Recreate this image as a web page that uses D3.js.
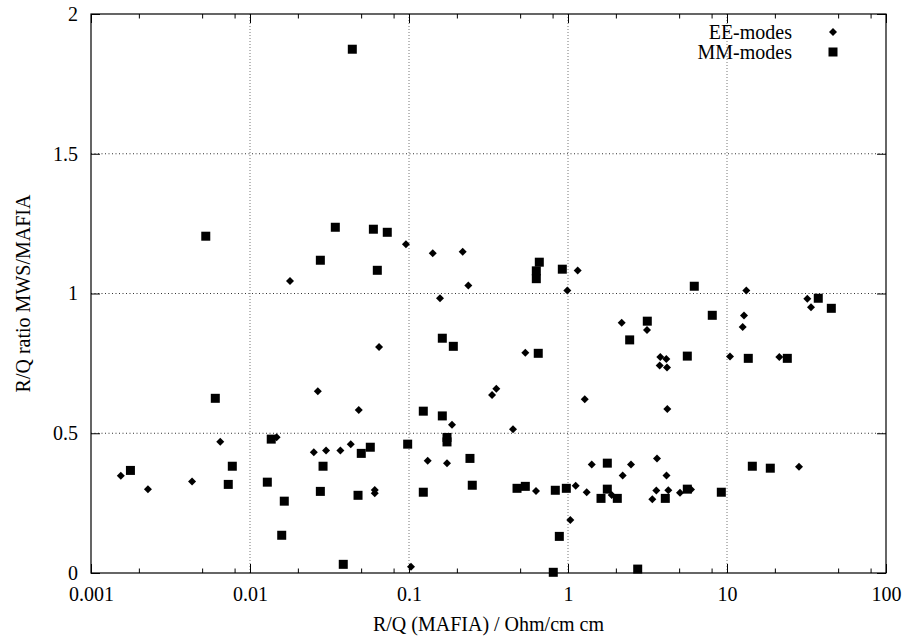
<!DOCTYPE html>
<html>
<head>
<meta charset="utf-8">
<script src="https://cdnjs.cloudflare.com/ajax/libs/d3/7.8.5/d3.min.js"></script>
<style>
  body { margin: 0; background: #fff; }
  text { font-family: "Liberation Serif", "Times New Roman", serif; }
</style>
</head>
<body>
<div id="chart"></div>
<script>
// Data
//-----------
var eeX = [0.00154, 0.00228, 0.00432, 0.0065, 0.0147, 0.01785, 0.0957, 0.141, 0.2176, 0.236,
  0.1567, 1.151, 0.99, 0.0648, 0.539, 0.0267, 0.354, 0.333, 1.274, 0.0483,
  0.1864, 0.451, 0.0252, 0.0301, 0.037, 0.043, 0.1311, 0.1734, 0.0609, 0.0609,
  0.629, 1.118, 1.311, 1.41, 1.034, 0.1029, 13.23, 32.0, 33.76, 12.79,
  12.55, 2.176, 3.14, 3.806, 4.152, 3.773, 4.194, 10.44, 21.33, 4.212,
  2.208, 2.49, 3.628, 4.164, 28.37, 1.883, 3.592, 3.391, 4.274, 5.063, 5.935];
var eeY = [0.348, 0.30, 0.327, 0.47, 0.486, 1.045, 1.176, 1.144, 1.149, 1.029,
  0.983, 1.082, 1.011, 0.809, 0.788, 0.65, 0.659, 0.637, 0.622, 0.583,
  0.53, 0.514, 0.432, 0.438, 0.438, 0.461, 0.402, 0.393, 0.297, 0.285,
  0.293, 0.312, 0.289, 0.388, 0.19, 0.022, 1.011, 0.981, 0.951, 0.921,
  0.88, 0.895, 0.869, 0.773, 0.766, 0.742, 0.735, 0.775, 0.773, 0.587,
  0.349, 0.388, 0.41, 0.349, 0.38, 0.279, 0.295, 0.264, 0.296, 0.287, 0.299];

var mmX = [0.00177, 0.00774, 0.0073, 0.00605, 0.0136, 0.01285, 0.01643, 0.01583, 0.00527, 0.044,
  0.0344, 0.0597, 0.073, 0.0277, 0.0632, 0.66, 0.632, 0.632, 0.921, 0.162,
  0.19, 0.65, 0.123, 0.162, 0.0501, 0.0571, 0.0288, 0.0981, 0.1734, 0.1734,
  0.2418, 0.25, 0.0277, 0.0478, 0.123, 0.478, 0.539, 0.832, 0.976, 1.613,
  0.882, 0.0386, 0.808, 6.226, 37.5, 45.3, 8.08, 3.153, 2.443, 5.628,
  13.61, 23.95, 1.767, 14.43, 18.72, 1.767, 2.042, 4.092, 5.628, 9.21, 2.744];
var mmY = [0.367, 0.382, 0.317, 0.625, 0.479, 0.325, 0.257, 0.135, 1.205, 1.874,
  1.237, 1.23, 1.219, 1.119, 1.083, 1.112, 1.081, 1.053, 1.087, 0.84,
  0.811, 0.786, 0.579, 0.562, 0.428, 0.45, 0.382, 0.461, 0.485, 0.469,
  0.41, 0.314, 0.292, 0.278, 0.289, 0.303, 0.31, 0.296, 0.303, 0.267,
  0.131, 0.031, 0.0025, 1.026, 0.983, 0.947, 0.922, 0.901, 0.834, 0.776,
  0.768, 0.768, 0.393, 0.382, 0.375, 0.30, 0.267, 0.267, 0.30, 0.289, 0.014];

var xMajor = [0.001, 0.01, 0.1, 1, 10, 100];
var xMajorLabels = ["0.001", "0.01", "0.1", "1", "10", "100"];
var xMinorSteps = [2, 5, 8];
var yMajor = [0, 0.5, 1, 1.5, 2];
var yMajorLabels = ["0", "0.5", "1", "1.5", "2"];
var seriesNames = ["EE-modes", "MM-modes"];

// Visualization attributes
//-----------
var W = 906, H = 642;
var m = {left: 91, right: 20, top: 14, bottom: 69};
var w = W - m.left - m.right;
var h = H - m.top - m.bottom;
var fontSize = 20;

// Scales
//-----------
var x = d3.scaleLog().domain([0.001, 100]).range([0, w]);
var y = d3.scaleLinear().domain([0, 2]).range([h, 0]);

var xMinor = [];
xMajor.slice(0, -1).forEach(function(d) {
  xMinorSteps.forEach(function(s) { xMinor.push(d * s); });
});

// SVG
//-----------
var svg = d3.select("#chart").append("svg")
  .attr("width", W)
  .attr("height", H);
var g = svg.append("g").attr("transform", "translate(" + m.left + "," + m.top + ")");

// Grid
//-----------
g.selectAll(".vgrid")
  .data(xMajor.slice(1, -1))
  .enter().append("line")
  .attr("x1", function(d) { return x(d); })
  .attr("x2", function(d) { return x(d); })
  .attr("y1", 0).attr("y2", h)
  .attr("stroke", "#777")
  .attr("stroke-width", 1)
  .attr("stroke-dasharray", "1,2");

g.selectAll(".hgrid")
  .data(yMajor.slice(1, -1))
  .enter().append("line")
  .attr("x1", 0).attr("x2", w)
  .attr("y1", function(d) { return y(d); })
  .attr("y2", function(d) { return y(d); })
  .attr("stroke", "#333")
  .attr("stroke-width", 1)
  .attr("stroke-dasharray", "1,2.5");

// Axes
//-----------
function styleAxis(sel) {
  sel.select(".domain").remove();
  sel.selectAll(".tick line").attr("stroke", "#000").attr("stroke-width", 1);
  sel.selectAll(".tick text")
    .attr("fill", "#000")
    .style("font-family", "'Liberation Serif', 'Times New Roman', serif")
    .style("font-size", fontSize + "px");
}

g.append("g")
  .attr("transform", "translate(0," + h + ")")
  .call(d3.axisBottom(x).tickValues(xMajor)
    .tickFormat(function(d, i) { return xMajorLabels[i]; })
    .tickSize(-9).tickPadding(14))
  .call(styleAxis);
g.append("g")
  .attr("transform", "translate(0," + h + ")")
  .call(d3.axisBottom(x).tickValues(xMinor).tickFormat("").tickSize(-4.5))
  .call(styleAxis);
g.append("g")
  .call(d3.axisTop(x).tickValues(xMajor).tickFormat("").tickSize(-9))
  .call(styleAxis);
g.append("g")
  .call(d3.axisTop(x).tickValues(xMinor).tickFormat("").tickSize(-4.5))
  .call(styleAxis);
g.append("g")
  .call(d3.axisLeft(y).tickValues(yMajor)
    .tickFormat(function(d, i) { return yMajorLabels[i]; })
    .tickSize(-9).tickPadding(13))
  .call(styleAxis);
g.append("g")
  .attr("transform", "translate(" + w + ",0)")
  .call(d3.axisRight(y).tickValues(yMajor).tickFormat("").tickSize(-9))
  .call(styleAxis);

// frame
g.append("rect")
  .attr("x", 0).attr("y", 0)
  .attr("width", w).attr("height", h)
  .attr("fill", "none")
  .attr("stroke", "#000")
  .attr("stroke-width", 1.2);

// Axis titles
//-----------
svg.append("text")
  .text("R/Q (MAFIA) / Ohm/cm cm")
  .attr("text-anchor", "middle")
  .attr("x", m.left + w / 2)
  .attr("y", 631)
  .attr("font-size", fontSize + "px");

svg.append("text")
  .text("R/Q ratio MWS/MAFIA")
  .attr("text-anchor", "middle")
  .attr("transform", "translate(30," + (m.top + h / 2) + ") rotate(-90)")
  .attr("font-size", fontSize + "px");

// Points
//-----------
var diamond = "M0,-4L4,0L0,4L-4,0Z";
var sq = 4.5;

g.selectAll(".ee")
  .data(eeX)
  .enter().append("path")
  .attr("d", diamond)
  .attr("transform", function(d, i) { return "translate(" + x(d) + "," + y(eeY[i]) + ")"; })
  .attr("fill", "#000");

g.selectAll(".mm")
  .data(mmX)
  .enter().append("rect")
  .attr("x", function(d) { return x(d) - sq; })
  .attr("y", function(d, i) { return y(mmY[i]) - sq; })
  .attr("width", sq * 2)
  .attr("height", sq * 2)
  .attr("fill", "#000");

// Legend
//-----------
var legend = svg.selectAll(".legend")
  .data(seriesNames)
  .enter().append("g")
  .attr("transform", function(d, i) { return "translate(0," + (i * 20) + ")"; });

legend.append("text")
  .text(function(d) { return d; })
  .attr("text-anchor", "end")
  .attr("x", 792)
  .attr("y", 39)
  .attr("font-size", fontSize + "px");

legend.filter(function(d, i) { return i === 0; })
  .append("path")
  .attr("d", diamond)
  .attr("transform", "translate(833,32)")
  .attr("fill", "#000");

legend.filter(function(d, i) { return i === 1; })
  .append("rect")
  .attr("x", 833 - sq).attr("y", 32 - sq)
  .attr("width", sq * 2).attr("height", sq * 2)
  .attr("fill", "#000");
</script>
</body>
</html>
